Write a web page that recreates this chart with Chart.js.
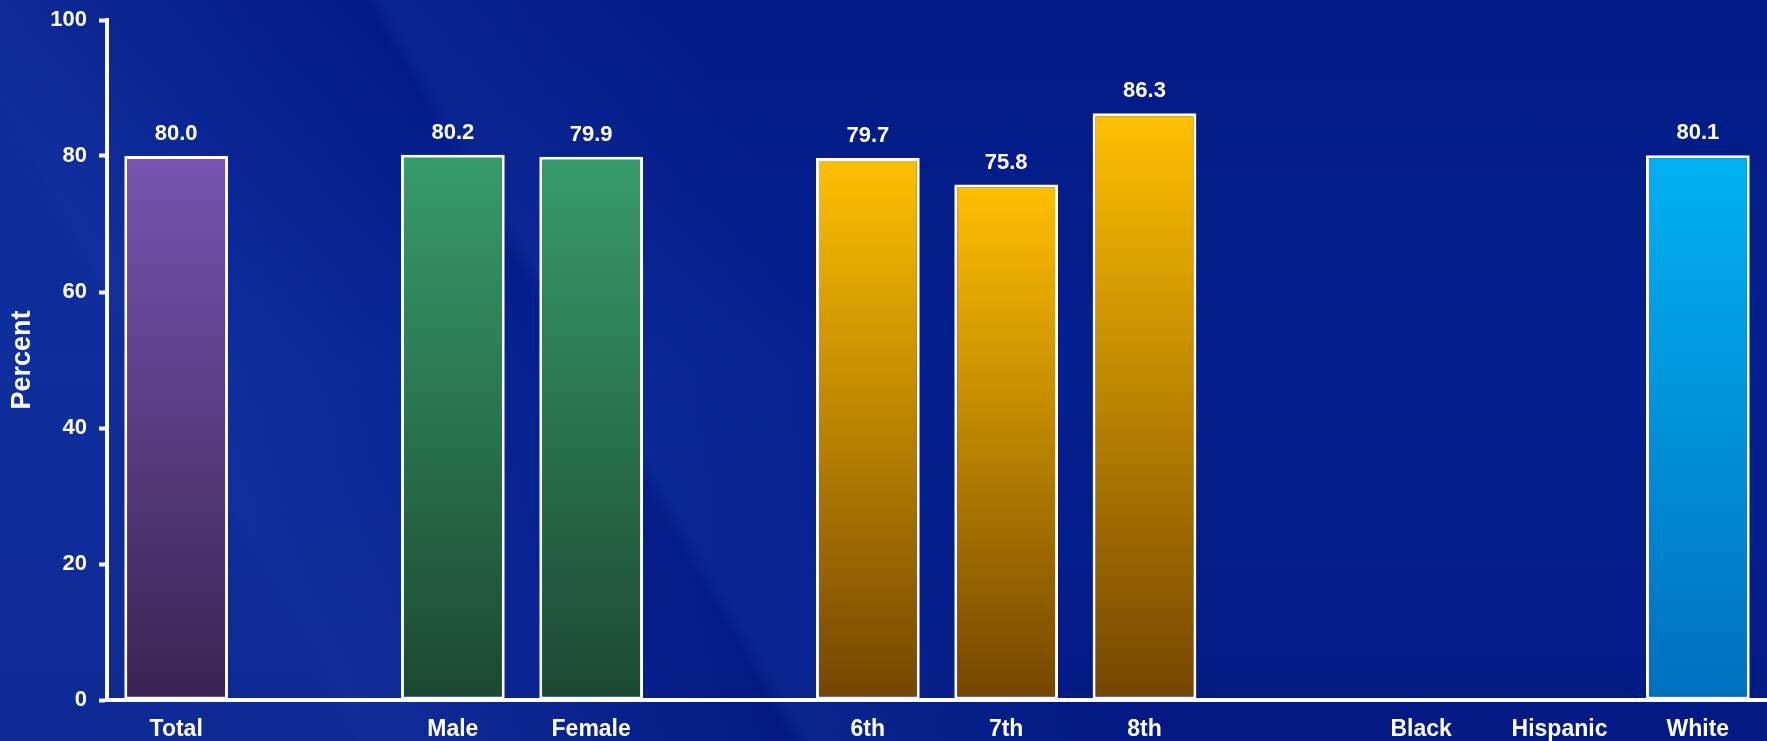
<!DOCTYPE html>
<html>
<head>
<meta charset="utf-8">
<script src="https://cdn.jsdelivr.net/npm/chart.js@4"></script>
<style>
  html, body { margin: 0; padding: 0; }
  body {
    width: 1767px; height: 741px; overflow: hidden;
    background:
      linear-gradient(60deg, rgba(70,120,230,0.16) 0%, rgba(70,120,230,0.16) 16%, rgba(70,120,230,0.20) 17%, rgba(70,120,230,0.10) 26%, rgba(255,255,255,0) 36%),
      linear-gradient(60deg, rgba(255,255,255,0) 36%, rgba(70,120,230,0.10) 37%, rgba(70,120,230,0.05) 44%, rgba(255,255,255,0) 50%),
      linear-gradient(180deg, #021a86 0%, #04208e 50%, #031a84 100%);
  }
  #wrap { position: absolute; left: 0; top: 0; width: 1767px; height: 741px; }
</style>
</head>
<body>
<div id="wrap"><canvas id="grafico" width="1767" height="741"></canvas></div>
<script>
// categorias (espacos vazios separam os grupos)
const categorias = ['Total', '', 'Male', 'Female', '', '6th', '7th', '8th', '', 'Black', 'Hispanic', 'White'];
const valores = [80.0, null, 80.2, 79.9, null, 79.7, 75.8, 86.3, null, null, null, 80.1];
const ticksY = [0, 20, 40, 60, 80, 100];

// cor de cima / cor de baixo de cada barra
const corTopo = ['#7654b0', null, '#379c6b', '#379c6b', null, '#ffc000', '#ffc000', '#ffc000', null, null, null, '#00b2f2'];
const corBase = ['#3a2352', null, '#1b4830', '#1b4830', null, '#744600', '#744600', '#744600', null, null, null, '#0070c0'];

const fonte = "'Liberation Sans', Arial, sans-serif";

function gradiente(ctx) {
    const chart = ctx.chart;
    const area = chart.chartArea;
    const i = ctx.dataIndex;
    if (!area || corTopo[i] == null) return 'rgba(0,0,0,0)';
    const y0 = chart.scales.y.getPixelForValue(valores[i]);
    const g = chart.ctx.createLinearGradient(0, y0, 0, area.bottom);
    g.addColorStop(0, corTopo[i]);
    g.addColorStop(1, corBase[i]);
    return g;
}

const rotulos = {
    id: 'rotulos',
    afterDatasetsDraw(chart) {
        const ctx = chart.ctx;
        const meta = chart.getDatasetMeta(0);
        ctx.save();
        ctx.fillStyle = '#ffffff';
        ctx.font = 'bold 22px ' + fonte;
        ctx.textAlign = 'center';
        ctx.textBaseline = 'middle';
        meta.data.forEach((barra, i) => {
            if (valores[i] == null) return;
            ctx.fillText(valores[i].toFixed(1), barra.x, barra.y - 22);
        });
        ctx.restore();
    }
};

let grafico = new Chart(document.getElementById('grafico').getContext('2d'), {
    type: 'bar',
    data: {
        labels: categorias,
        datasets: [{
            data: valores,
            backgroundColor: gradiente,
            borderColor: '#ffffff',
            borderWidth: 3,
            borderSkipped: false,
            categoryPercentage: 1.0,
            barPercentage: 0.75
        }]
    },
    options: {
        responsive: false,
        animation: false,
        layout: { padding: { top: 20, right: 0, left: 0, bottom: 0 } },
        plugins: { legend: { display: false }, tooltip: { enabled: false } },
        scales: {
            x: {
                afterFit(axis) { axis.height = 41; axis.paddingLeft = 0; axis.paddingRight = 0; },
                grid: { drawOnChartArea: false, drawTicks: false },
                border: { color: '#ffffff', width: 4 },
                ticks: { color: '#ffffff', font: { family: fonte, size: 23, weight: 'bold' }, padding: 16, maxRotation: 0, autoSkip: false }
            },
            y: {
                min: 0,
                max: 100,
                afterBuildTicks(axis) { axis.ticks = ticksY.map(v => ({ value: v })); },
                afterFit(axis) { axis.width = 107; axis.paddingTop = 0; axis.paddingBottom = 0; },
                grid: { drawOnChartArea: false, drawTicks: true, tickLength: 8, tickColor: '#ffffff', tickWidth: 4 },
                border: { color: '#ffffff', width: 4 },
                ticks: { color: '#ffffff', font: { family: fonte, size: 22, weight: 'bold' }, padding: 12 },
                title: { display: true, text: 'Percent', color: '#ffffff', font: { family: fonte, size: 27, weight: 'bold' }, padding: { top: 6, bottom: 0 } }
            }
        }
    },
    plugins: [rotulos]
});
</script>
</body>
</html>
